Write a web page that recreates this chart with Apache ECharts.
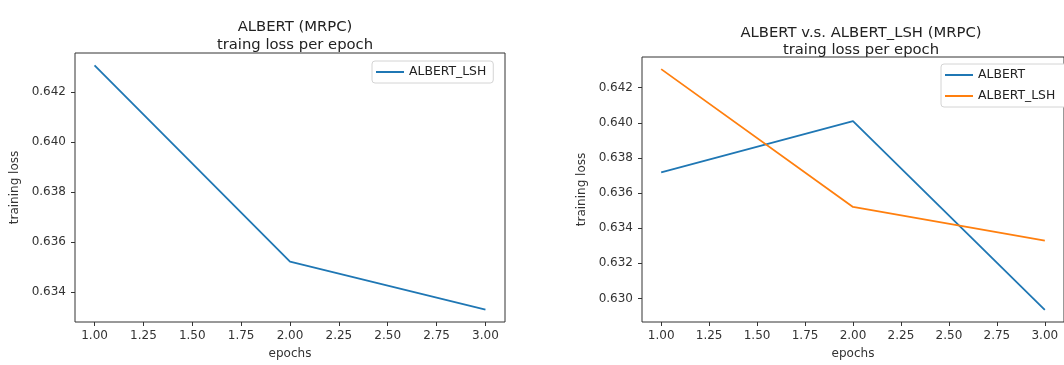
<!DOCTYPE html>
<html>
<head>
<meta charset="utf-8">
<script src="https://cdn.jsdelivr.net/npm/echarts@6/dist/echarts.min.js"></script>
<style>
html, body { margin: 0; padding: 0; background: #fff; }
#main { width: 1064px; height: 365px; }
</style>
</head>
<body>
<div id="main"></div>
<script>
// data
var epochs = [1, 2, 3];
var albertLsh = [0.64306, 0.63521, 0.63329];
var albert = [0.63718, 0.64010, 0.62935];
var xTicks = [1, 1.25, 1.5, 1.75, 2, 2.25, 2.5, 2.75, 3];
var yTicksLeft = [0.634, 0.636, 0.638, 0.640, 0.642];
var yTicksRight = [0.630, 0.632, 0.634, 0.636, 0.638, 0.640, 0.642];

var font = "DejaVu Sans";
var blue = "#1f77b4";
var orange = "#ff7f0e";

function pairs(values) {
	var out = [];
	for (var i = 0; i < epochs.length; i++) {
		out.push([epochs[i], values[i]]);
	}
	return out;
}

function xAxisOf(gridIndex) {
	return {
		type: "value",
		gridIndex: gridIndex,
		min: 0.9,
		max: 3.1,
		name: "epochs",
		nameLocation: "middle",
		nameGap: 26,
		nameTextStyle: { fontFamily: font, fontSize: 12, color: "#333" },
		axisLine: { show: false },
		splitLine: { show: false },
		axisTick: { show: true, customValues: xTicks, length: 4, lineStyle: { color: "#333" } },
		axisLabel: {
			customValues: xTicks, margin: 8, fontFamily: font, fontSize: 12, color: "#333",
			formatter: function (v) { return v.toFixed(2); }
		}
	};
}

function yAxisOf(gridIndex, min, max, ticks) {
	return {
		type: "value",
		gridIndex: gridIndex,
		min: min,
		max: max,
		name: "training loss",
		nameLocation: "middle",
		nameRotate: 90,
		nameGap: 54,
		nameTextStyle: { fontFamily: font, fontSize: 12, color: "#333" },
		axisLine: { show: false },
		splitLine: { show: false },
		axisTick: { show: true, customValues: ticks, length: 4, lineStyle: { color: "#333" } },
		axisLabel: {
			customValues: ticks, margin: 9, fontFamily: font, fontSize: 12, color: "#333",
			formatter: function (v) { return v.toFixed(3); }
		}
	};
}

function lineSeries(name, values, color, idx) {
	return {
		name: name,
		type: "line",
		xAxisIndex: idx,
		yAxisIndex: idx,
		data: pairs(values),
		symbol: "none",
		lineStyle: { color: color, width: 1.8 },
		itemStyle: { color: color },
		animation: false
	};
}

var legendBox = {
	orient: "vertical",
	backgroundColor: "#fff",
	borderColor: "#d4d4d4",
	borderWidth: 1,
	borderRadius: 3,
	itemWidth: 28,
	itemHeight: 2,
	itemGap: 8,
	icon: "rect",
	selectedMode: false,
	textStyle: { fontFamily: font, fontSize: 12.4, color: "#222" }
};

// the right plot reuses a name, so its series carry a trailing space
var names = { "ALBERT_LSH": "ALBERT_LSH", "ALBERT ": "ALBERT", "ALBERT_LSH ": "ALBERT_LSH" };

var option = {
	backgroundColor: "#fff",
	title: [{
		text: "ALBERT (MRPC)\ntraing loss per epoch",
		left: 290, top: 13, textAlign: "center",
		textStyle: { fontFamily: font, fontSize: 14.8, fontWeight: "normal", color: "#222", lineHeight: 18 }
	}, {
		text: "ALBERT v.s. ALBERT_LSH (MRPC)\ntraing loss per epoch",
		left: 856, top: 19, textAlign: "center",
		textStyle: { fontFamily: font, fontSize: 14.8, fontWeight: "normal", color: "#222", lineHeight: 17.5 }
	}],
	legend: [
		Object.assign({}, legendBox, {
			data: ["ALBERT_LSH"], left: 372, top: 61, padding: [5, 7, 5, 4],
			formatter: function (n) { return names[n]; }
		}),
		Object.assign({}, legendBox, {
			data: ["ALBERT ", "ALBERT_LSH "], left: 941, top: 64, padding: [5, 14, 5, 4], itemGap: 9,
			formatter: function (n) { return names[n]; }
		})
	],
	grid: [
		{ left: 75, top: 53, width: 430, height: 274, show: true, borderColor: "#333", borderWidth: 1 },
		{ left: 642, top: 57, width: 430, height: 271, show: true, borderColor: "#333", borderWidth: 1 }
	],
	xAxis: [xAxisOf(0), xAxisOf(1)],
	yAxis: [
		yAxisOf(0, 0.6328, 0.64355, yTicksLeft),
		yAxisOf(1, 0.62866, 0.64375, yTicksRight)
	],
	series: [
		lineSeries("ALBERT_LSH", albertLsh, blue, 0),
		lineSeries("ALBERT ", albert, blue, 1),
		lineSeries("ALBERT_LSH ", albertLsh, orange, 1)
	]
};

var myChart = echarts.init(document.getElementById("main"));
myChart.setOption(option);
</script>
</body>
</html>
